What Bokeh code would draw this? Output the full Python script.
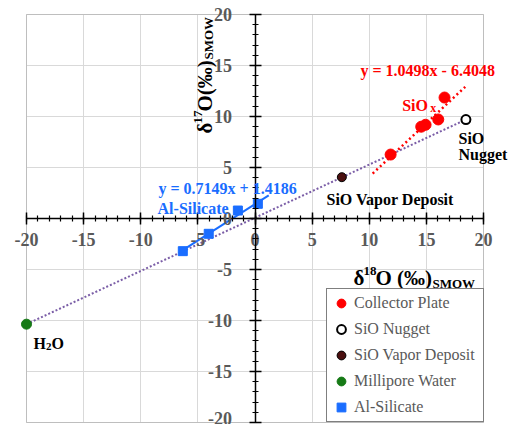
import math
from bokeh.plotting import figure
from bokeh.models import (Range1d, SingleIntervalTicker, Label, PrintfTickFormatter,
                          BoxAnnotation)
from bokeh.embed import file_html
from bokeh.resources import INLINE

# ---- data ----
collector_x = [11.87, 14.55, 14.93, 16.04, 16.59]
collector_y = [6.27, 9.00, 9.19, 9.71, 11.86]
nugget_x = [18.46]
nugget_y = [9.70]
vapor_x = [7.60]
vapor_y = [4.05]
water_x = [-20.0]
water_y = [-10.36]
alsil_x = [-6.32, -4.05, -1.50, 0.25]
alsil_y = [-3.20, -1.50, 0.78, 1.44]

# trendlines as printed on the chart
sio_slope, sio_icpt = 1.0498, -6.4048
sio_fit_x = [10.3, 18.4]
alsil_slope, alsil_icpt = 0.7149, 1.4186
alsil_fit_x = [-6.32, 1.2]

axis_min, axis_max = -20, 20
tick_interval = 5

SERIF = "Liberation Serif"
GRAY = "#595959"
RED = "#ff0000"
BLUE = "#1a6dff"
GREEN = "#167a16"
PURPLE = "#7b5ea7"

W, H = 510, 424
# the drawing frame covers the whole canvas; the chart box (-20..20) sits inside it
p = figure(width=W, height=H,
           x_range=Range1d(-22.276, 22.363), y_range=Range1d(-20.196, 21.373),
           output_backend="svg", toolbar_location=None,
           min_border_left=0, min_border_right=0,
           min_border_top=0, min_border_bottom=0)

p.background_fill_color = "white"
p.border_fill_color = "white"
p.outline_line_color = None

for ax in (p.xaxis[0], p.yaxis[0]):
    ax.fixed_location = 0
    ax.bounds = (axis_min, axis_max)
    ax.ticker = SingleIntervalTicker(interval=tick_interval, num_minor_ticks=5)
    ax.formatter = PrintfTickFormatter(format="%d")
    ax.axis_line_color = "black"
    ax.axis_line_width = 1.5
    ax.major_tick_line_color = "black"
    ax.minor_tick_line_color = "black"
    ax.major_tick_line_width = 1.5
    ax.minor_tick_line_width = 1.2
    ax.major_tick_in = 6
    ax.major_tick_out = 6
    ax.minor_tick_in = 3
    ax.minor_tick_out = 3
    ax.major_label_text_font = SERIF
    ax.major_label_text_font_style = "bold"
    ax.major_label_text_font_size = "18px"
    ax.major_label_text_color = GRAY
p.xaxis[0].major_label_standoff = 8
p.yaxis[0].major_label_standoff = 17

for g in (p.xgrid[0], p.ygrid[0]):
    g.ticker = SingleIntervalTicker(interval=tick_interval)
    g.bounds = (axis_min, axis_max)
    g.cross_bounds = (axis_min, axis_max)
    g.grid_line_color = "#d9d9d9"
    g.grid_line_width = 1

p.add_layout(BoxAnnotation(left=axis_min, right=axis_max, bottom=axis_min, top=axis_max,
                           fill_alpha=0, line_color="#808080", line_width=1,
                           level="underlay"))

# ---- lines ----
p.line([water_x[0], nugget_x[0]], [water_y[0], nugget_y[0]],
       line_color=PURPLE, line_width=2, line_dash="2 2")
p.line(sio_fit_x, [sio_slope * x + sio_icpt for x in sio_fit_x],
       line_color=RED, line_width=2.5, line_dash="2 3")
p.line(alsil_fit_x, [alsil_slope * x + alsil_icpt for x in alsil_fit_x],
       line_color=BLUE, line_width=2)

# ---- points ----
p.scatter(collector_x, collector_y, marker="circle", size=11,
          fill_color=RED, line_color=RED, legend_label="Collector Plate")
p.scatter(nugget_x, nugget_y, marker="circle", size=9,
          fill_color="white", line_color="black", line_width=2,
          legend_label="SiO Nugget")
p.scatter(vapor_x, vapor_y, marker="circle", size=9,
          fill_color="#4a0f0f", line_color="black", line_width=1,
          legend_label="SiO Vapor Deposit")
p.scatter(water_x, water_y, marker="circle", size=10,
          fill_color=GREEN, line_color=GREEN, legend_label="Millipore Water")
p.scatter(alsil_x, alsil_y, marker="square", size=9,
          fill_color=BLUE, line_color=BLUE, legend_label="Al-Silicate")

lg = p.legend[0]
lg.location = (326, 2)
lg.margin = 0
lg.padding = 3
lg.spacing = 4
lg.glyph_width = 22
lg.glyph_height = 22
lg.label_height = 22
lg.label_width = 126
lg.label_standoff = 2
lg.label_text_font = SERIF
lg.label_text_font_size = "16px"
lg.label_text_color = GRAY
lg.border_line_color = "black"
lg.border_line_width = 1
lg.background_fill_color = "white"
lg.background_fill_alpha = 1


def add_label(x, y, text, color="black", size=16, xo=0, yo=0, angle=0, bold=True):
    p.add_layout(Label(x=x, y=y, text=text, x_offset=xo, y_offset=yo,
                       angle=angle, text_font=SERIF,
                       text_font_style="bold" if bold else "normal",
                       text_font_size=f"{size}px", text_color=color,
                       text_align="left", text_baseline="alphabetic"))


# ---- annotations ----
add_label(9.23, 14.5, "y = 1.0498x - 6.4048", RED)
add_label(12.88, 11.08, "SiO", RED)
add_label(15.33, 11.08, "x", RED, size=12, yo=-3)
add_label(17.81, 7.84, "SiO")
add_label(17.81, 6.27, "Nugget")
add_label(6.26, 1.86, "SiO Vapor Deposit")
add_label(-8.45, 2.94, "y = 0.7149x + 1.4186", BLUE)
add_label(-8.53, 0.98, "Al-Silicate", BLUE)
add_label(-19.39, -12.25, "H")
add_label(-19.39, -12.25, "2", size=11, xo=12.5, yo=-3)
add_label(-19.39, -12.25, "O", xo=18)

# x axis title: δ18O (‰)SMOW
xb, yb = 8.62, -5.88
add_label(xb, yb, "\u03b4", size=21)
add_label(xb, yb, "18", size=13, xo=10, yo=7)
add_label(xb, yb, "O (\u2030)", size=21, xo=22)
add_label(xb, yb, "SMOW", size=13, xo=79, yo=-5)

# y axis title (rotated): δ17O(‰)SMOW
rot = math.pi / 2
xr, yr = -4.42, 8.33
add_label(xr, yr, "\u03b4", size=21, angle=rot)
add_label(xr, yr, "17", size=13, angle=rot, xo=-7, yo=10)
add_label(xr, yr, "O(\u2030)", size=21, angle=rot, yo=22)
add_label(xr, yr, "SMOW", size=13, angle=rot, xo=4, yo=74)

open("out.html", "w").write(file_html(p, INLINE))
